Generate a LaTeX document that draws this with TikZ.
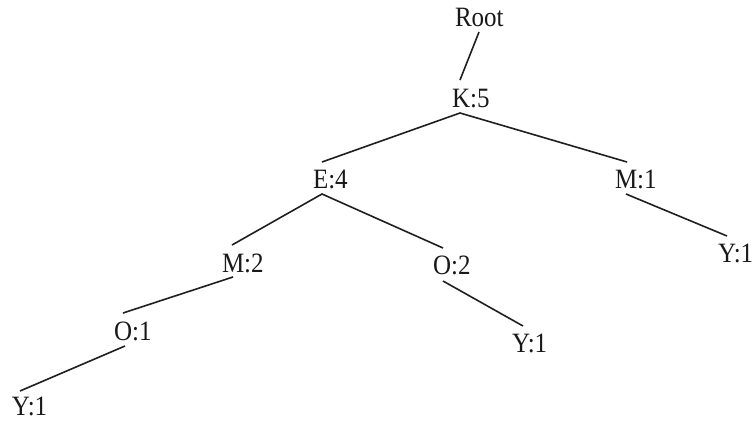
\documentclass[tikz,border=0pt]{standalone}
\usepackage{fontspec}
\usepackage{graphicx}
\setmainfont{Liberation Serif}
\newcommand\tallt[1]{\scalebox{1}[1.12]{#1}}
\begin{document}
\begin{tikzpicture}[x=1pt,y=-1pt,
  lbl/.style={anchor=base west,inner sep=0pt,outer sep=0pt,text=black!90,font=\fontsize{25}{30}\selectfont},
  edge/.style={line width=1.6pt,draw=black!88}]
\useasboundingbox (0,0) rectangle (755,421);
\node[lbl] (root) at (455,26) {\tallt{Root}};
\node[lbl] (k5) at (452,107) {\tallt{K:5}};
\node[lbl] (e4) at (313,188) {\tallt{E:4}};
\node[lbl] (m1) at (615,188) {\tallt{M:1}};
\node[lbl] (m2) at (222,272) {\tallt{M:2}};
\node[lbl] (o2) at (433,274) {\tallt{O:2}};
\node[lbl] (yr) at (718,262) {\tallt{Y:1}};
\node[lbl] (o1) at (114,340) {\tallt{O:1}};
\node[lbl] (ym) at (512,352) {\tallt{Y:1}};
\node[lbl] (yl) at (12,415) {\tallt{Y:1}};
\draw[edge] ([shift={(24,6)}]root.base west) -- ([shift={(8,-27)}]k5.base west);
\draw[edge] ([shift={(9,-26)}]e4.base west) -- ([shift={(8,6)}]k5.base west) -- ([shift={(12,-26)}]m1.base west);
\draw[edge] ([shift={(10,-27)}]m2.base west) -- ([shift={(9,6)}]e4.base west) -- ([shift={(10,-26)}]o2.base west);
\draw[edge] ([shift={(11,6)}]m1.base west) -- ([shift={(9,-26)}]yr.base west);
\draw[edge] ([shift={(11,5)}]m2.base west) -- ([shift={(9,-27)}]o1.base west);
\draw[edge] ([shift={(10,7)}]o2.base west) -- ([shift={(11,-26)}]ym.base west);
\draw[edge] ([shift={(11,6)}]o1.base west) -- ([shift={(8,-24)}]yl.base west);
\end{tikzpicture}
\end{document}
